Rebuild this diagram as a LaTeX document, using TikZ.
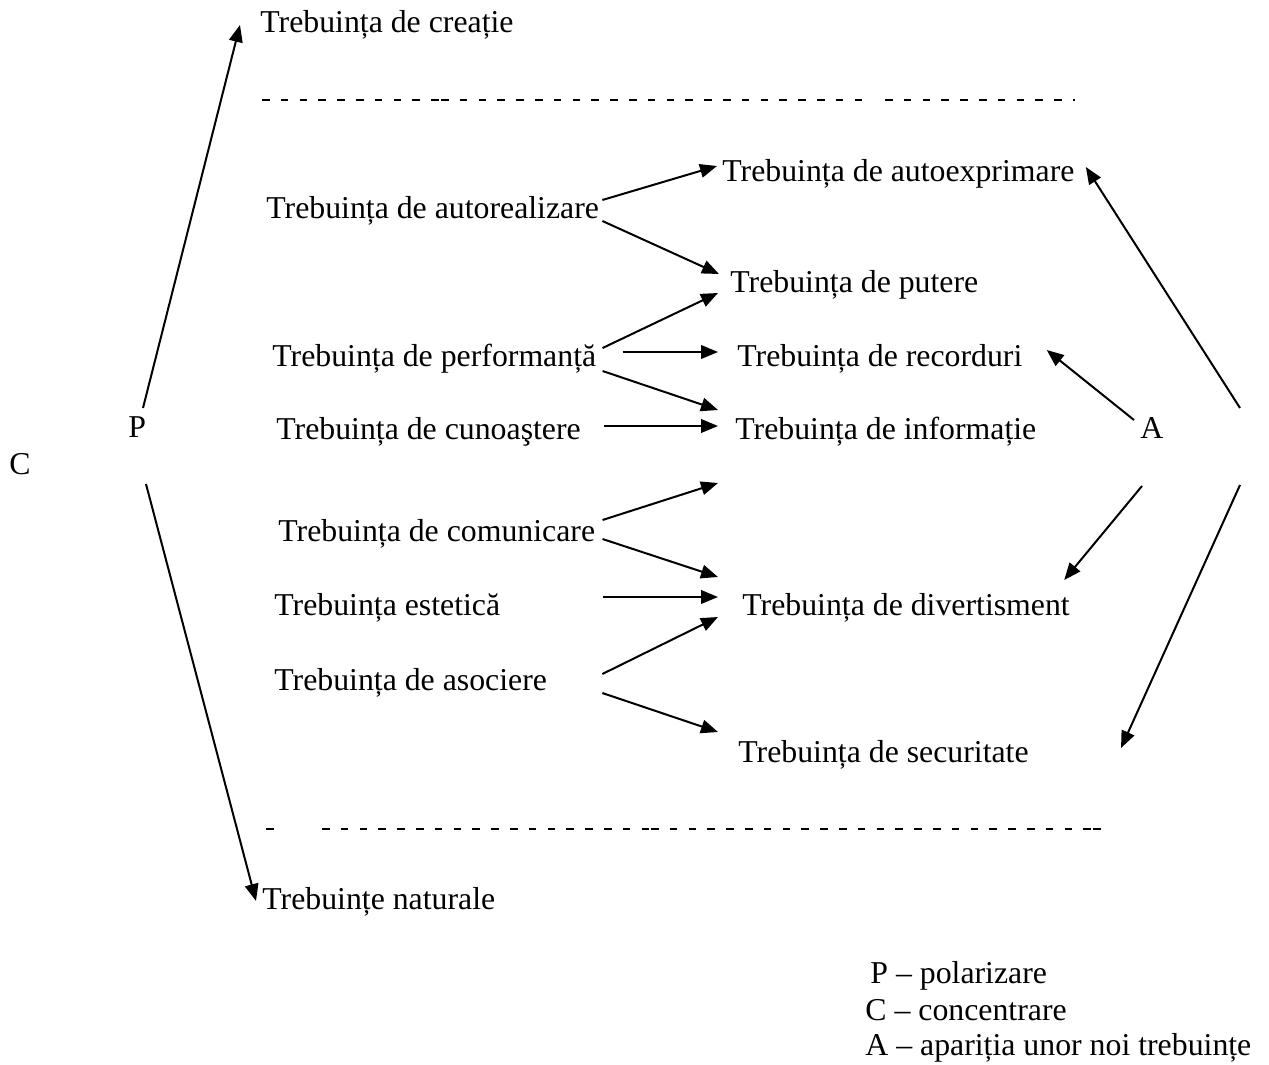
\documentclass[tikz,border=0pt]{standalone}
\usepackage{fontspec}
\setmainfont{Liberation Serif}
\usetikzlibrary{arrows.meta}

\begin{document}
\begin{tikzpicture}[x=0.5pt,y=-0.5pt,
    lbl/.style={anchor=base west,inner sep=0pt,font=\fontsize{15.9}{19}\selectfont},
    arr/.style={-{Triangle[length=8.5pt,width=6.8pt]},line width=1pt},
    sep/.style={dash pattern=on 3.8pt off 5.6pt,line width=1.3pt}]
    \useasboundingbox (0,0) rectangle (1269,1065);

    % Letters
    \node[lbl] (P) at (128,437) {P};
    \node[lbl] (C) at (9,474) {C};
    \node[lbl] (A) at (1140,438) {A};

    % Needs, left column
    \node[lbl] (creatie) at (260,33) {Trebuința de creație};
    \node[lbl] (autoreal) at (266,218) {Trebuința de autorealizare};
    \node[lbl] (perf) at (272,366) {Trebuința de performanță};
    \node[lbl] (cunoa) at (276,439) {Trebuința de cunoaştere};
    \node[lbl] (comun) at (278,541) {Trebuința de comunicare};
    \node[lbl] (estet) at (274,615) {Trebuința estetică};
    \node[lbl] (asoc) at (274,690) {Trebuința de asociere};
    \node[lbl] (natur) at (262,909) {Trebuințe naturale};

    % Needs, right column
    \node[lbl] (autoexp) at (722,181) {Trebuința de autoexprimare};
    \node[lbl] (putere) at (730,292) {Trebuința de putere};
    \node[lbl] (record) at (737,366) {Trebuința de recorduri};
    \node[lbl] (inform) at (735,439) {Trebuința de informație};
    \node[lbl] (divert) at (742,615) {Trebuința de divertisment};
    \node[lbl] (secur) at (738,762) {Trebuința de securitate};

    % Free ends
    \coordinate (blank) at (718,483);
    \coordinate (up) at (1240,408);
    \coordinate (dn) at (1240,485);

    % Separators
    \draw[sep] (262,100) -- (439,100);
    \draw[sep] (441,100) -- (866,100);
    \draw[sep] (885,100) -- (1075,100);
    \draw[sep] (266,829) -- (274,829);
    \draw[sep] (322,829) -- (650,829);
    \draw[sep] (651,829) -- (1091,829);
    \draw[sep] (1093,829) -- (1101,829);

    % Polarization
    \draw[arr] ([shift={(15,-29)}]P.base west) -- ([shift={(-20,-8)}]creatie.base west);
    \draw[arr] ([shift={(18,47)}]P.base west) -- ([shift={(-6,-8)}]natur.base west);

    % Left to right
    \draw[arr] ([shift={(3,-18)}]autoreal.base east) -- ([shift={(-5,-15)}]autoexp.base west);
    \draw[arr] ([shift={(3,3)}]autoreal.base east) -- ([shift={(-11,-18)}]putere.base west);
    \draw[arr] ([shift={(6,-18)}]perf.base east) -- ([shift={(-12,1)}]putere.base west);
    \draw[arr] ([shift={(26,-14)}]perf.base east) -- ([shift={(-19,-14)}]record.base west);
    \draw[arr] ([shift={(6,5)}]perf.base east) -- ([shift={(-17,-29)}]inform.base west);
    \draw[arr] ([shift={(23,-13)}]cunoa.base east) -- ([shift={(-17,-13)}]inform.base west);
    \draw[arr] ([shift={(7,-21)}]comun.base east) -- (blank);
    \draw[arr] ([shift={(7,-2)}]comun.base east) -- ([shift={(-24,-38)}]divert.base west);
    \draw[arr] ([shift={(102,-18)}]estet.base east) -- ([shift={(-24,-18)}]divert.base west);
    \draw[arr] ([shift={(55,-16)}]asoc.base east) -- ([shift={(-24,2)}]divert.base west);
    \draw[arr] ([shift={(55,3)}]asoc.base east) -- ([shift={(-20,-30)}]secur.base west);

    % New needs
    \draw[arr] ([shift={(-6,-18)}]A.base west) -- ([shift={(24,-16)}]record.base east);
    \draw[arr] ([shift={(2,48)}]A.base west) -- ([shift={(-6,-35)}]divert.base east);
    \draw[arr] (up) -- ([shift={(11,-14)}]autoexp.base east);
    \draw[arr] (dn) -- ([shift={(92,-14)}]secur.base east);

    % Legend
    \node[lbl] (legP) at (870,983) {P – polarizare};
    \node[lbl] (legC) at (865,1020) {C – concentrare};
    \node[lbl] (legA) at (865,1055) {A – apariția unor noi trebuințe};
\end{tikzpicture}
\end{document}
